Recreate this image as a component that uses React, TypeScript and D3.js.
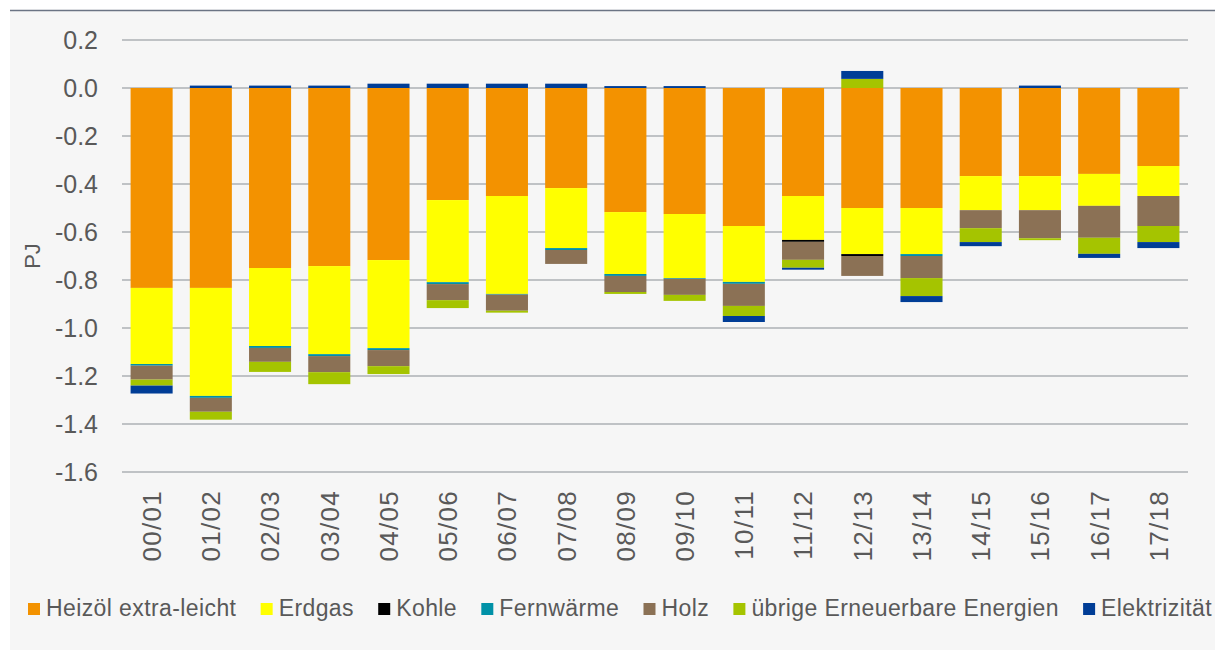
import React, { useEffect, useRef } from 'react';
import * as d3 from 'd3';

const categories = ['00/01', '01/02', '02/03', '03/04', '04/05', '05/06', '06/07', '07/08', '08/09', '09/10', '10/11', '11/12', '12/13', '13/14', '14/15', '15/16', '16/17', '17/18'];

const heizoel = [-0.833, -0.833, -0.75, -0.742, -0.717, -0.467, -0.45, -0.417, -0.517, -0.525, -0.575, -0.45, -0.5, -0.5, -0.367, -0.367, -0.358, -0.325];
const erdgas = [-0.317, -0.45, -0.325, -0.367, -0.367, -0.342, -0.408, -0.25, -0.258, -0.267, -0.233, -0.183, -0.192, -0.192, -0.142, -0.142, -0.133, -0.125];
const kohle = [0, 0, 0, 0, 0, 0, 0, 0, 0, 0, 0, -0.008, -0.008, 0, 0, 0, 0, 0];
const fernwaerme = [-0.007, -0.008, -0.008, -0.008, -0.008, -0.008, -0.003, -0.008, -0.008, -0.003, -0.008, 0, 0, -0.008, 0, 0, 0, 0];
const holz = [-0.058, -0.058, -0.058, -0.067, -0.067, -0.067, -0.067, -0.058, -0.067, -0.067, -0.092, -0.075, -0.083, -0.092, -0.075, -0.117, -0.133, -0.125];
const uebrige = [-0.025, -0.033, -0.042, -0.05, -0.033, -0.033, -0.008, 0, -0.008, -0.025, -0.042, -0.033, 0.038, -0.075, -0.058, -0.008, -0.067, -0.067];
const elektrizitaet = [-0.033, 0.01, 0.01, 0.01, 0.018, 0.018, 0.018, 0.018, 0.008, 0.008, -0.025, -0.008, 0.033, -0.025, -0.017, 0.01, -0.017, -0.025];

const seriesNames = ['Heizöl extra-leicht', 'Erdgas', 'Kohle', 'Fernwärme', 'Holz', 'übrige Erneuerbare Energien', 'Elektrizität'];
const seriesValues = [heizoel, erdgas, kohle, fernwaerme, holz, uebrige, elektrizitaet];
const colors = ['#F39200', '#FFFF00', '#000000', '#0091A7', '#8B7155', '#A5C400', '#003D96'];

const yTicks = [0.2, 0, -0.2, -0.4, -0.6, -0.8, -1.0, -1.2, -1.4, -1.6];

const W = 1215;
const H = 650;

const App = () => {
  const ref = useRef<SVGSVGElement>(null);

  useEffect(() => {
    const svg = d3.select(ref.current);
    svg.selectAll('*').remove();

    const font = '"Liberation Sans", Arial, sans-serif';
    const textColor = '#595959';

    // background + top rule
    svg.append('rect').attr('x', 10).attr('y', 10).attr('width', W - 10).attr('height', H - 10).attr('fill', '#F6F6F6');
    svg.append('line').attr('x1', 10).attr('x2', W).attr('y1', 10.5).attr('y2', 10.5).attr('stroke', '#6B7484').attr('stroke-width', 1.5);

    const x = d3.scaleBand().domain(categories).range([122, 1188]).paddingInner(0.29).paddingOuter(0.145);
    const y = d3.scaleLinear().domain([-1.6, 0.2]).range([472, 40]);

    // gridlines
    svg.append('g')
      .selectAll('line')
      .data(yTicks)
      .enter().append('line')
      .attr('x1', 122).attr('x2', 1188)
      .attr('y1', d => y(d)).attr('y2', d => y(d))
      .attr('stroke', '#BFC2C5').attr('stroke-width', 2);

    // y tick labels (plain hyphen like the original)
    svg.append('g')
      .selectAll('text')
      .data(yTicks)
      .enter().append('text')
      .attr('x', 98).attr('y', d => y(d)).attr('dy', '0.36em')
      .attr('text-anchor', 'end')
      .style('font-family', font).style('font-size', '25px').style('fill', textColor)
      .text(d => d.toFixed(1).replace('−', '-'));

    // PJ label
    svg.append('text')
      .attr('transform', 'translate(40,256) rotate(-90)')
      .attr('text-anchor', 'middle')
      .style('font-family', font).style('font-size', '22px').style('fill', textColor)
      .text('PJ');

    // stacked bars
    const rows = categories.map((c, i) => {
      const r: any = { cat: c };
      seriesNames.forEach((s, k) => { r[s] = seriesValues[k][i]; });
      return r;
    });
    const stack = d3.stack().keys(seriesNames).offset(d3.stackOffsetDiverging);
    const layers = stack(rows);

    svg.append('g')
      .selectAll('g')
      .data(layers)
      .enter().append('g')
      .attr('fill', (d, i) => colors[i])
      .selectAll('rect')
      .data(d => d.filter(p => p[1] - p[0] !== 0))
      .enter().append('rect')
      .attr('x', d => x(d.data.cat)!)
      .attr('width', x.bandwidth())
      .attr('y', d => y(Math.max(d[0], d[1])))
      .attr('height', d => Math.abs(y(d[0]) - y(d[1])));

    // x labels
    svg.append('g')
      .selectAll('text')
      .data(categories)
      .enter().append('text')
      .attr('transform', d => `translate(${x(d)! + x.bandwidth() / 2},490) rotate(-90)`)
      .attr('text-anchor', 'end')
      .attr('dy', '0.36em')
      .style('font-family', font).style('font-size', '26px').style('letter-spacing', '1.3px').style('fill', textColor)
      .text(d => d);

    // legend
    const legend = svg.append('g');
    const items = seriesNames.map((name, i) => {
      const g = legend.append('g');
      g.append('rect').attr('width', 12).attr('height', 12).attr('y', -13).attr('fill', colors[i]);
      const t = g.append('text').attr('x', 18).attr('y', 0)
        .style('font-family', font).style('font-size', '23px').style('letter-spacing', '0.4px').style('fill', textColor)
        .text(name);
      const w = 18 + (t.node() as SVGTextElement).getComputedTextLength();
      return { g, w };
    });
    const total = d3.sum(items, d => d.w);
    const gap = (1212 - 28 - total) / (items.length - 1);
    let cx = 28;
    items.forEach(it => {
      it.g.attr('transform', `translate(${cx},616)`);
      cx += it.w + gap;
    });
  }, []);

  return (
    <svg ref={ref} width={W} height={H} style={{ position: 'absolute', left: 0, top: 0, background: '#fff' }}></svg>
  );
};

export default App;
